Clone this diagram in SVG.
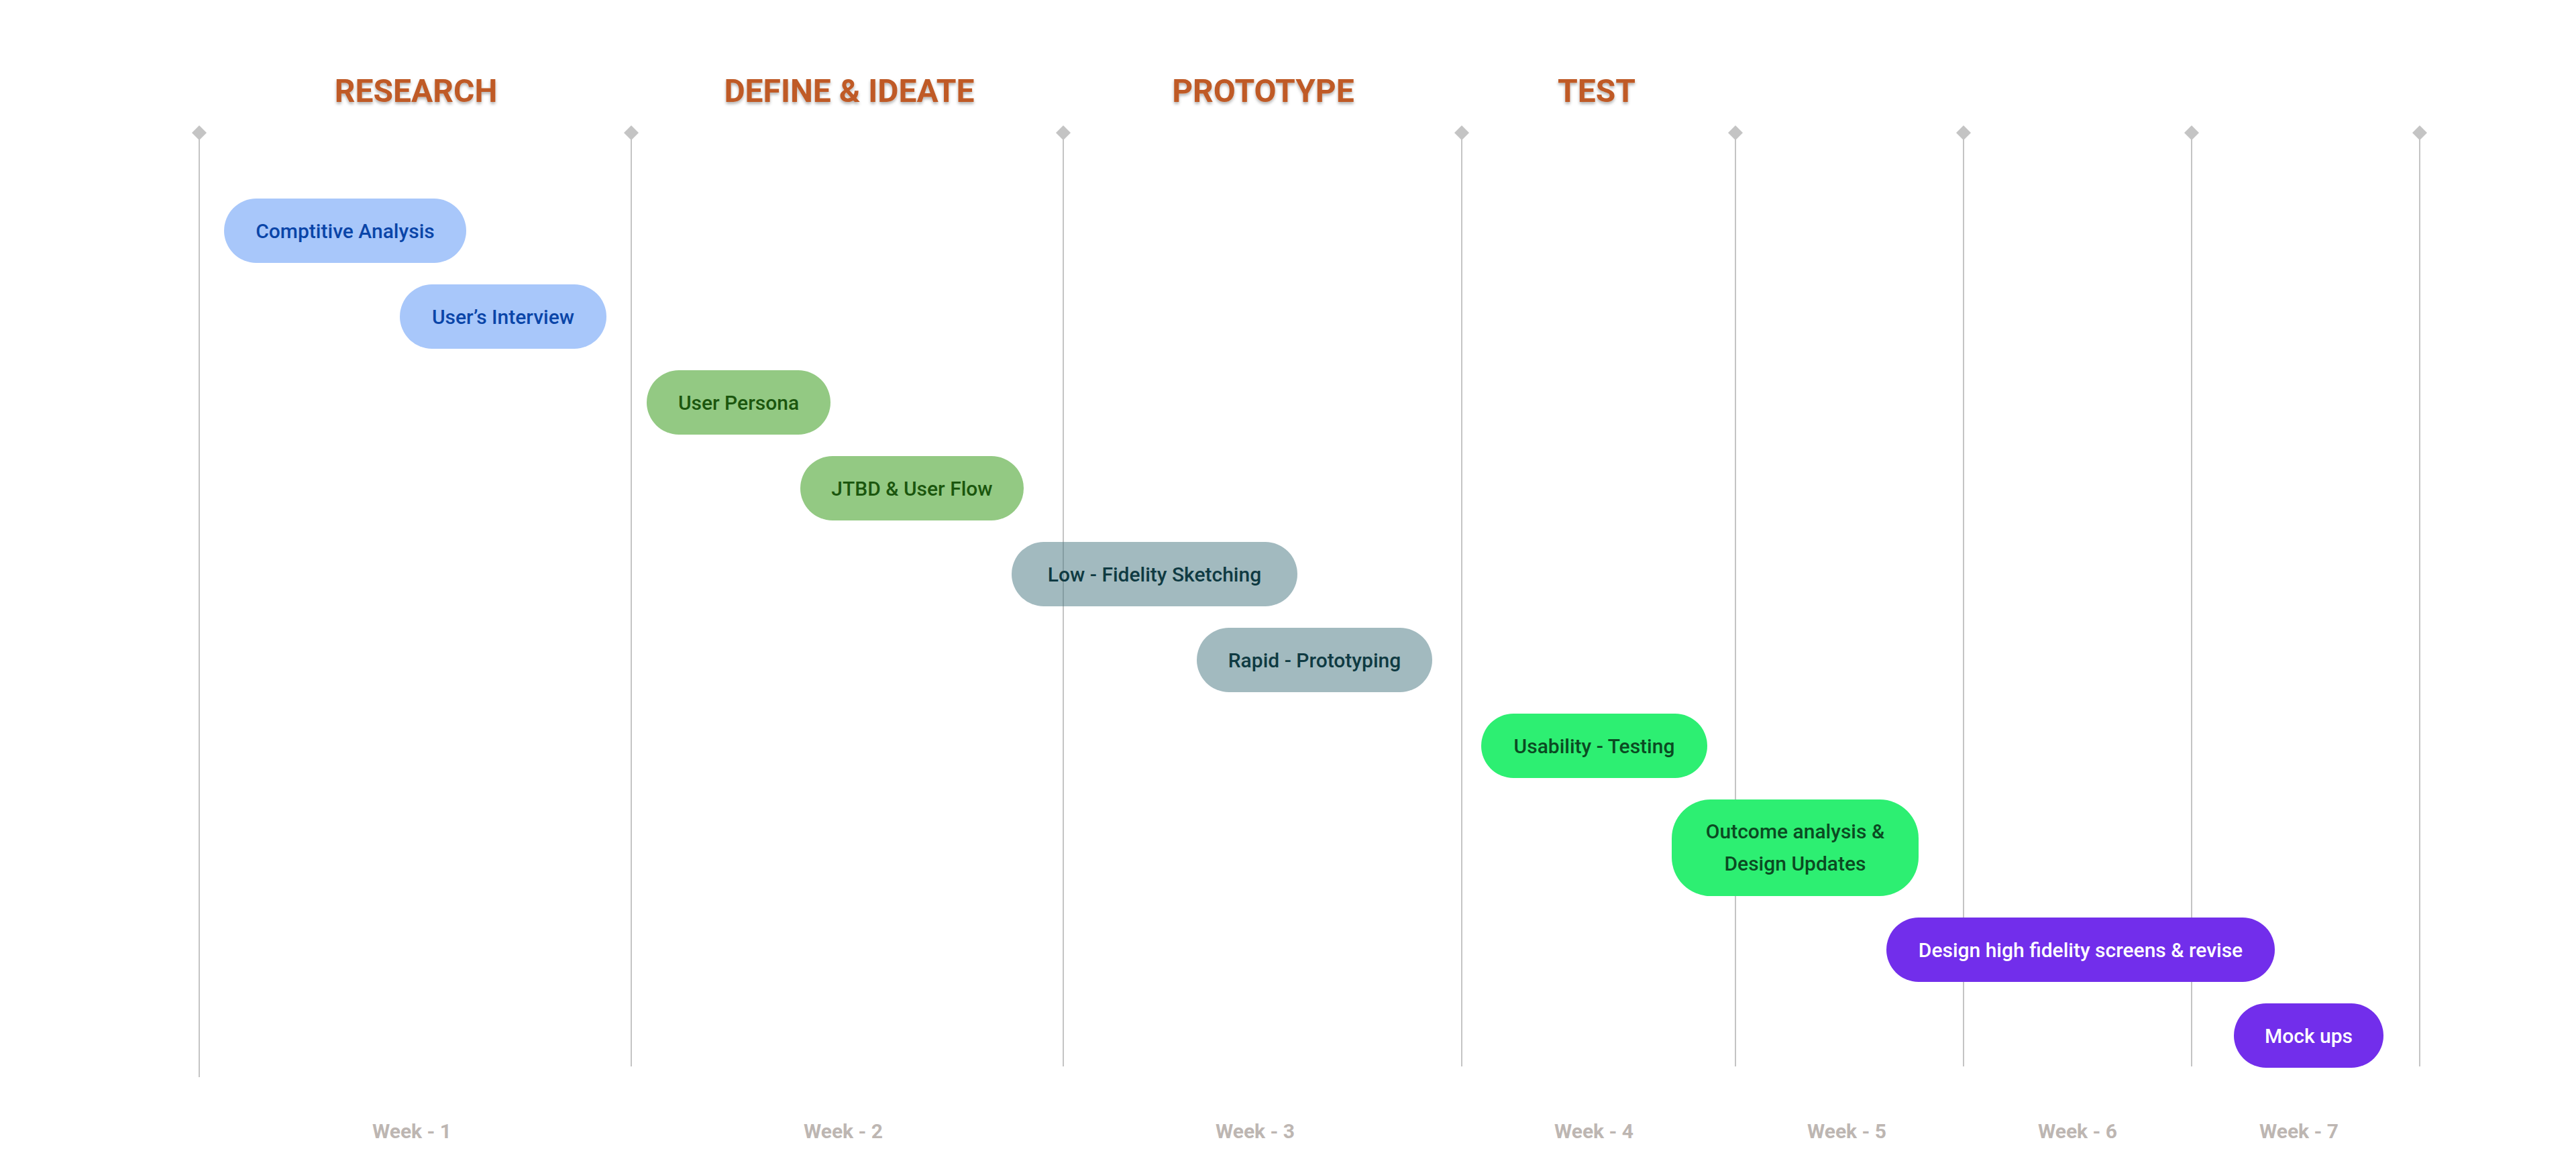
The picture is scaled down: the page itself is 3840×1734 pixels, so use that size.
<svg xmlns="http://www.w3.org/2000/svg" width="3840" height="1734" viewBox="0 0 3840 1734">
<defs>
<style>
.grid line{stroke:#c4c4c4;stroke-width:2}
.grid polygon{fill:#c4c4c4}
.phase{font-family:Roboto,"Liberation Sans",sans-serif;font-weight:700;font-size:48px;fill:#bf5a26;text-anchor:middle;filter:url(#sh)}
.week{font-family:Roboto,"Liberation Sans",sans-serif;font-weight:700;font-size:30px;fill:#bdb6b2;text-anchor:middle}
.lbl{font-family:Roboto,"Liberation Sans",sans-serif;font-weight:500;font-size:30px;text-anchor:middle}
.res rect{fill:#a8c7fa}.res text{fill:#0a45a8}
.def rect{fill:#93c983}.def text{fill:#1b560e}
.pro rect{fill:#45757f;fill-opacity:0.5}.pro text{fill:#0f3a42}
.tst rect{fill:#2def72}.tst text{fill:#0b4a22}
.fin rect{fill:#722eeb}.fin text{fill:#ffffff}
</style>
<filter id="sh" x="-10%" y="-30%" width="120%" height="160%">
<feDropShadow dx="0" dy="3" stdDeviation="2" flood-color="#000" flood-opacity="0.3"/>
</filter>
</defs>
<rect width="3840" height="1734" fill="#ffffff"/>

<g id="headings">
<text class="phase" x="620" y="152">RESEARCH</text>
<text class="phase" x="1266" y="152">DEFINE &amp; IDEATE</text>
<text class="phase" x="1883" y="152">PROTOTYPE</text>
<text class="phase" x="2380" y="152">TEST</text>
</g>

<g id="connectors" class="grid">
<line x1="297" y1="198" x2="297" y2="1606"/>
<line x1="941" y1="198" x2="941" y2="1590"/>
<line x1="1585" y1="198" x2="1585" y2="1590"/>
<line x1="2179" y1="198" x2="2179" y2="1590"/>
<line x1="2587" y1="198" x2="2587" y2="1590"/>
<line x1="2927" y1="198" x2="2927" y2="1590"/>
<line x1="3267" y1="198" x2="3267" y2="1590"/>
<line x1="3607" y1="198" x2="3607" y2="1590"/>
<polygon points="297,187 308,198 297,209 286,198"/>
<polygon points="941,187 952,198 941,209 930,198"/>
<polygon points="1585,187 1596,198 1585,209 1574,198"/>
<polygon points="2179,187 2190,198 2179,209 2168,198"/>
<polygon points="2587,187 2598,198 2587,209 2576,198"/>
<polygon points="2927,187 2938,198 2927,209 2916,198"/>
<polygon points="3267,187 3278,198 3267,209 3256,198"/>
<polygon points="3607,187 3618,198 3607,209 3596,198"/>
</g>

<g id="task-comptitive-analysis" class="res">
<rect x="334" y="296" width="361" height="96" rx="48"/>
<text class="lbl" x="514.5" y="355">Comptitive Analysis</text>
</g>
<g id="task-users-interview" class="res">
<rect x="596" y="424" width="308" height="96" rx="48"/>
<text class="lbl" x="750" y="483">User’s Interview</text>
</g>
<g id="task-user-persona" class="def">
<rect x="964" y="552" width="274" height="96" rx="48"/>
<text class="lbl" x="1101" y="611">User Persona</text>
</g>
<g id="task-jtbd" class="def">
<rect x="1193" y="680" width="333" height="96" rx="48"/>
<text class="lbl" x="1359.5" y="739">JTBD &amp; User Flow</text>
</g>
<g id="task-low-fidelity" class="pro">
<rect x="1508" y="808" width="426" height="96" rx="48"/>
<text class="lbl" x="1721" y="867">Low - Fidelity Sketching</text>
</g>
<g id="task-rapid-prototyping" class="pro">
<rect x="1784" y="936" width="351" height="96" rx="48"/>
<text class="lbl" x="1959.5" y="995">Rapid - Prototyping</text>
</g>
<g id="task-usability-testing" class="tst">
<rect x="2208" y="1064" width="337" height="96" rx="48"/>
<text class="lbl" x="2376.5" y="1123">Usability - Testing</text>
</g>
<g id="task-outcome-analysis" class="tst">
<rect x="2492" y="1192" width="368" height="144" rx="58"/>
<text class="lbl" x="2676" y="1250">Outcome analysis &amp;</text>
<text class="lbl" x="2676" y="1298">Design Updates</text>
</g>
<g id="task-high-fidelity" class="fin">
<rect x="2812" y="1368" width="579" height="96" rx="48"/>
<text class="lbl" x="3101.5" y="1427">Design high fidelity screens &amp; revise</text>
</g>
<g id="task-mock-ups" class="fin">
<rect x="3330" y="1496" width="223" height="96" rx="48"/>
<text class="lbl" x="3441.5" y="1555">Mock ups</text>
</g>

<g id="weeks">
<text class="week" x="614" y="1697">Week - 1</text>
<text class="week" x="1257" y="1697">Week - 2</text>
<text class="week" x="1871" y="1697">Week - 3</text>
<text class="week" x="2376" y="1697">Week - 4</text>
<text class="week" x="2753" y="1697">Week - 5</text>
<text class="week" x="3097" y="1697">Week - 6</text>
<text class="week" x="3427" y="1697">Week - 7</text>
</g>
</svg>
